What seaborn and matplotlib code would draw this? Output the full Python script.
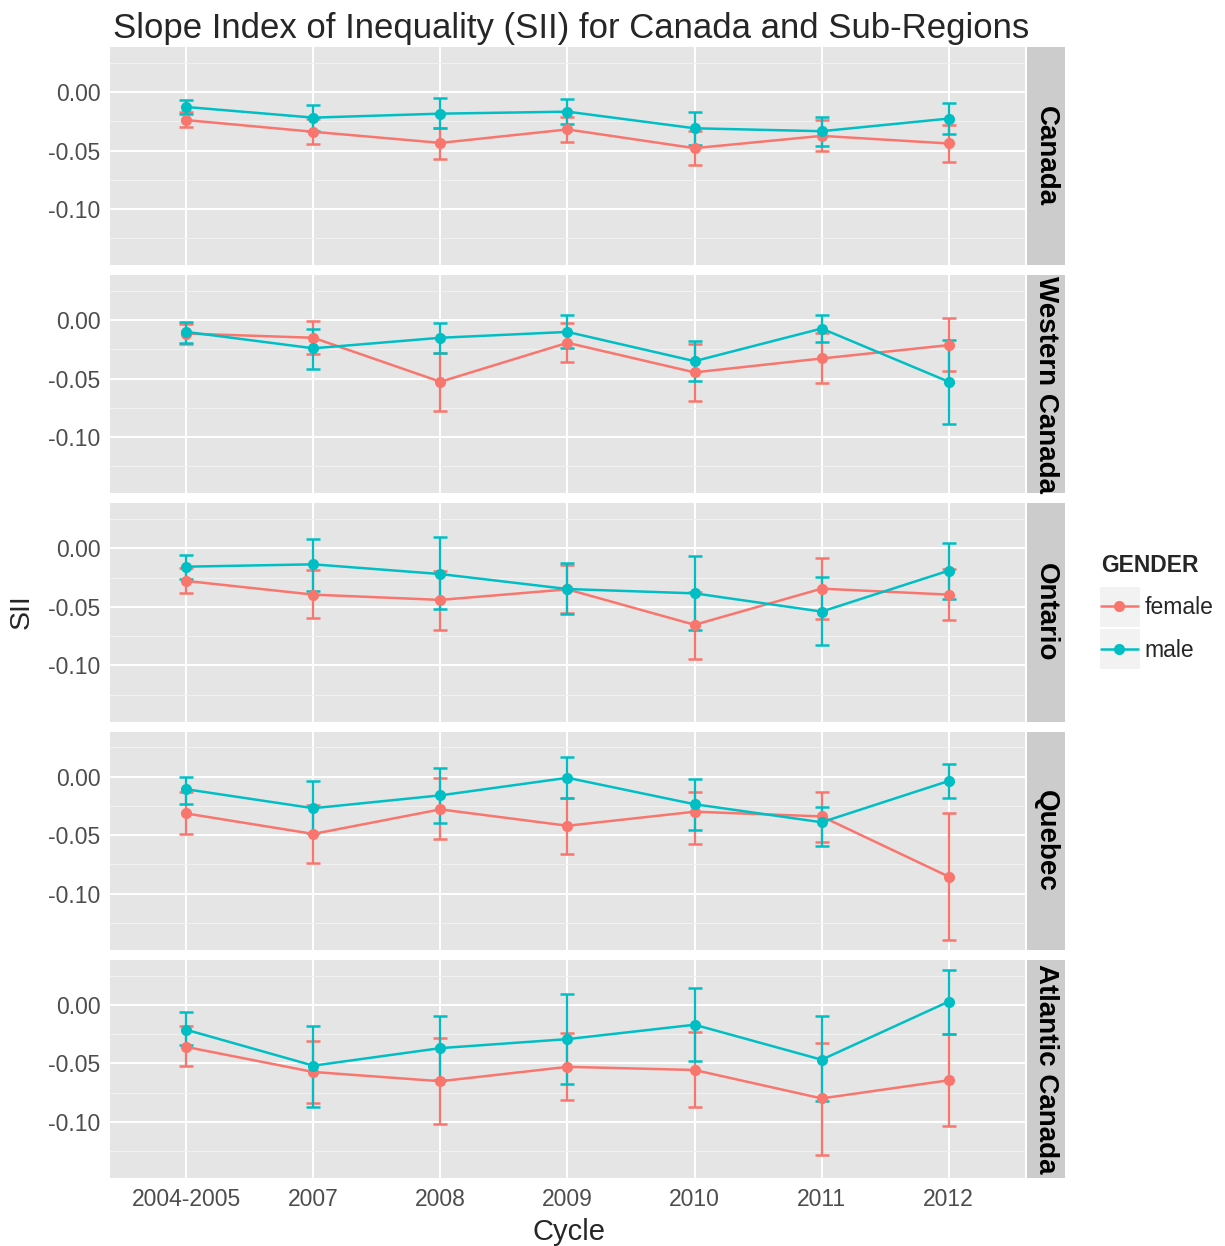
import pandas as pd
import seaborn as sns
import matplotlib.pyplot as plt
import numpy as np
from matplotlib.lines import Line2D
from matplotlib.patches import Rectangle
from matplotlib.ticker import FixedLocator


cycles = ["2004-2005", "2007", "2008", "2009", "2010", "2011", "2012"]
regions = ["Canada", "Western Canada", "Ontario", "Quebec", "Atlantic Canada"]
genders = ["female", "male"]

# SII estimates, one list per region and gender
female_sii = {
    "Canada":          [-0.024, -0.034, -0.0435, -0.032, -0.048, -0.0375, -0.044],
    "Western Canada":  [-0.0114, -0.015, -0.0526, -0.0193, -0.0446, -0.0327, -0.0213],
    "Ontario":         [-0.0278, -0.0395, -0.044, -0.035, -0.0653, -0.0344, -0.0395],
    "Quebec":          [-0.0315, -0.049, -0.028, -0.042, -0.030, -0.034, -0.0855],
    "Atlantic Canada": [-0.036, -0.0574, -0.0653, -0.053, -0.0557, -0.080, -0.0645],
}
female_lo = {
    "Canada":          [-0.030, -0.0446, -0.057, -0.043, -0.0625, -0.0506, -0.060],
    "Western Canada":  [-0.0207, -0.0287, -0.078, -0.0355, -0.069, -0.054, -0.0435],
    "Ontario":         [-0.038, -0.0597, -0.0696, -0.055, -0.0946, -0.060, -0.061],
    "Quebec":          [-0.049, -0.074, -0.0537, -0.066, -0.0577, -0.0557, -0.1395],
    "Atlantic Canada": [-0.0526, -0.0838, -0.1017, -0.081, -0.0875, -0.128, -0.104],
}
female_hi = {
    "Canada":          [-0.0175, -0.023, -0.031, -0.021, -0.033, -0.024, -0.028],
    "Western Canada":  [-0.003, -0.0006, -0.0278, -0.0028, -0.0207, -0.0105, 0.002],
    "Ontario":         [-0.017, -0.0185, -0.0193, -0.014, -0.037, -0.0085, -0.0179],
    "Quebec":          [-0.013, -0.024, -0.001, -0.0185, -0.013, -0.013, -0.0315],
    "Atlantic Canada": [-0.0185, -0.031, -0.0284, -0.0244, -0.0236, -0.033, -0.0247],
}
male_sii = {
    "Canada":          [-0.0128, -0.0219, -0.0185, -0.0168, -0.031, -0.0335, -0.0227],
    "Western Canada":  [-0.010, -0.024, -0.015, -0.010, -0.035, -0.0071, -0.0526],
    "Ontario":         [-0.0156, -0.0136, -0.0219, -0.0347, -0.0384, -0.054, -0.019],
    "Quebec":          [-0.0108, -0.027, -0.016, -0.001, -0.0236, -0.039, -0.0037],
    "Atlantic Canada": [-0.0213, -0.052, -0.037, -0.0293, -0.017, -0.0469, 0.0028],
}
male_lo = {
    "Canada":          [-0.0185, -0.033, -0.031, -0.027, -0.045, -0.046, -0.036],
    "Western Canada":  [-0.0193, -0.0418, -0.0278, -0.0236, -0.052, -0.019, -0.0884],
    "Ontario":         [-0.026, -0.0364, -0.052, -0.056, -0.070, -0.0827, -0.043],
    "Quebec":          [-0.023, -0.0486, -0.040, -0.0185, -0.046, -0.0597, -0.0185],
    "Atlantic Canada": [-0.034, -0.087, -0.064, -0.0673, -0.0477, -0.0824, -0.0247],
}
male_hi = {
    "Canada":          [-0.0071, -0.011, -0.005, -0.006, -0.017, -0.021, -0.0094],
    "Western Canada":  [-0.0014, -0.0077, -0.0028, 0.0043, -0.0176, 0.0043, -0.0173],
    "Ontario":         [-0.006, 0.008, 0.0094, -0.0128, -0.0065, -0.0247, 0.005],
    "Quebec":          [-0.0003, -0.0037, 0.007, 0.0165, -0.0017, -0.026, 0.0105],
    "Atlantic Canada": [-0.006, -0.0179, -0.0094, 0.0091, 0.0142, -0.0099, 0.030],
}

palette = {"female": "#F8766D", "male": "#00BFC4"}

rows = []
for r in regions:
    for g_name, s, lo, hi in [("female", female_sii, female_lo, female_hi),
                              ("male", male_sii, male_lo, male_hi)]:
        for i, c in enumerate(cycles):
            rows.append({"region": r, "GENDER": g_name, "cycle": c, "pos": i,
                         "SII": s[r][i], "lo": lo[r][i], "hi": hi[r][i]})
df = pd.DataFrame(rows)

sns.set_theme(style="darkgrid", rc={
    "axes.facecolor": "#E5E5E5",
    "grid.color": "white",
    "grid.linewidth": 1.4,
    "axes.unicode_minus": False,
})
plt.rcParams["font.family"] = ["Liberation Sans", "DejaVu Sans"]


def draw_series(data, color, label, **kws):
    ax = plt.gca()
    ax.errorbar(data["pos"], data["SII"],
                yerr=[data["SII"] - data["lo"], data["hi"] - data["SII"]],
                color=color, lw=1.8, marker="o", ms=7, capsize=4.7,
                capthick=1.8, elinewidth=1.6, label=label)


g = sns.FacetGrid(df, row="region", row_order=regions, hue="GENDER",
                  hue_order=genders, palette=palette, height=2.2, aspect=4.2,
                  sharex=True, sharey=True, despine=False)
g.map_dataframe(draw_series)
g.figure.set_size_inches(12.25, 12.46)
g.figure.subplots_adjust(left=0.0898, right=0.8367, top=0.9623, bottom=0.0546,
                         hspace=0.046)
g.set_titles("")
g.set_axis_labels("", "")

for ax, region in zip(g.axes.flat, regions):
    ax.set_xlim(-0.6, 6.6)
    ax.set_ylim(-0.148, 0.0385)
    ax.xaxis.set_major_locator(FixedLocator(range(len(cycles))))
    ax.set_xticklabels(cycles)
    ax.set_yticks([0.0, -0.05, -0.10])
    ax.set_yticklabels(["0.00", "-0.05", "-0.10"])
    ax.yaxis.set_minor_locator(FixedLocator([0.025, -0.025, -0.075, -0.125]))
    ax.grid(which="minor", axis="y", color="#F2F2F2", lw=0.7)
    ax.tick_params(which="minor", length=0)
    ax.tick_params(which="major", length=4, width=1.2, color="#7F7F7F",
                   labelcolor="#4D4D4D", labelsize=16.5, pad=3)
    for sp in ax.spines.values():
        sp.set_visible(False)
    # grey strip on the right side
    ax.add_patch(Rectangle((1.002, 0), 0.0415, 1, transform=ax.transAxes,
                           facecolor="#CCCCCC", edgecolor="none", clip_on=False))
    ax.text(1.023, 0.5, region, transform=ax.transAxes, rotation=-90,
            ha="center", va="center", fontsize=20, fontweight="bold",
            color="black")

g.axes.flat[-1].tick_params(axis="x", labelbottom=True)

fig = g.figure
fig.text(0.092, 0.977, "Slope Index of Inequality (SII) for Canada and Sub-Regions",
         ha="left", va="center", fontsize=25)
fig.text(0.018, 0.509, "SII", rotation=90, ha="center", va="center", fontsize=20.5)
fig.text(0.4645, 0.0112, "Cycle", ha="center", va="center", fontsize=21)

# light grey key backgrounds, as in the ggplot legend
for top in (587, 629):
    fig.patches.append(Rectangle((1100 / 1225, 1 - (top + 40) / 1246), 40 / 1225, 40 / 1246,
                                 transform=fig.transFigure, facecolor="#F2F2F2",
                                 edgecolor="none", zorder=0))

handles = [Line2D([], [], color=palette[k], lw=1.8, marker="o", ms=7)
           for k in genders]
leg = fig.legend(handles, genders, title="GENDER", loc="upper left",
                 bbox_to_anchor=(1101 / 1225, 1 - 554 / 1246), frameon=False,
                 fontsize=16.5, title_fontproperties={"weight": "bold", "size": 16.5},
                 handlelength=1.6, labelspacing=0.85, handletextpad=0.3,
                 borderpad=0, borderaxespad=0)
leg._legend_box.align = "left"

fig.savefig("out.png", dpi=100)
